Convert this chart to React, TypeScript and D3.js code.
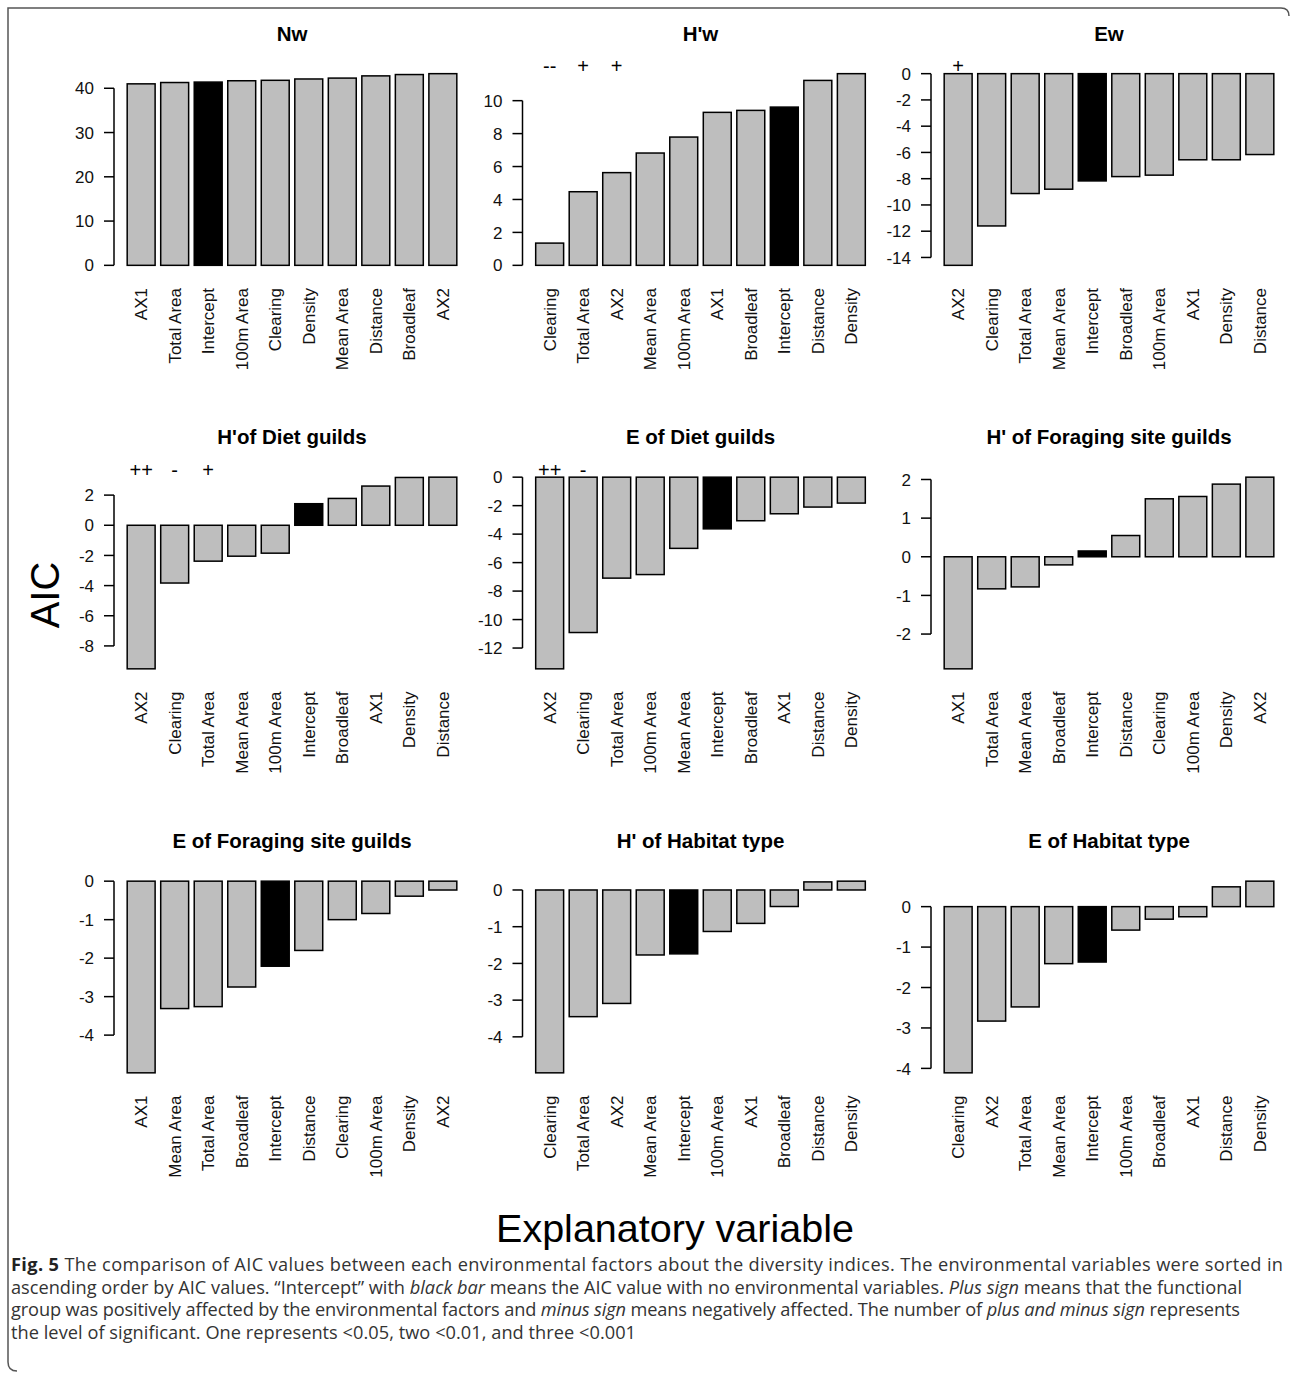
import * as d3 from 'd3';

// panel titles, in reading order
const titles = [
  'Nw', "H'w", 'Ew',
  "H'of Diet guilds", 'E of Diet guilds', "H' of Foraging site guilds",
  'E of Foraging site guilds', "H' of Habitat type", 'E of Habitat type',
];

const nwNames = ['AX1', 'Total Area', 'Intercept', '100m Area', 'Clearing', 'Density', 'Mean Area', 'Distance', 'Broadleaf', 'AX2'];
const nwValues = [41.0, 41.3, 41.4, 41.7, 41.8, 42.1, 42.3, 42.8, 43.1, 43.3];
const nwTicks = [0, 10, 20, 30, 40];
const nwSigns: string[] = [];

const hwNames = ['Clearing', 'Total Area', 'AX2', 'Mean Area', '100m Area', 'AX1', 'Broadleaf', 'Intercept', 'Distance', 'Density'];
const hwValues = [1.35, 4.47, 5.63, 6.82, 7.79, 9.29, 9.41, 9.61, 11.23, 11.64];
const hwTicks = [0, 2, 4, 6, 8, 10];
const hwSigns = ['--', '+', '+'];

const ewNames = ['AX2', 'Clearing', 'Total Area', 'Mean Area', 'Intercept', 'Broadleaf', '100m Area', 'AX1', 'Density', 'Distance'];
const ewValues = [-14.6, -11.6, -9.13, -8.8, -8.17, -7.84, -7.73, -6.56, -6.56, -6.16];
const ewTicks = [0, -2, -4, -6, -8, -10, -12, -14];
const ewSigns = ['+'];

const hDietNames = ['AX2', 'Clearing', 'Total Area', 'Mean Area', '100m Area', 'Intercept', 'Broadleaf', 'AX1', 'Density', 'Distance'];
const hDietValues = [-9.52, -3.83, -2.38, -2.05, -1.85, 1.43, 1.78, 2.6, 3.17, 3.19];
const hDietTicks = [2, 0, -2, -4, -6, -8];
const hDietSigns = ['++', '-', '+'];

const eDietNames = ['AX2', 'Clearing', 'Total Area', '100m Area', 'Mean Area', 'Intercept', 'Broadleaf', 'AX1', 'Distance', 'Density'];
const eDietValues = [-13.46, -10.91, -7.09, -6.84, -5.0, -3.63, -3.06, -2.57, -2.1, -1.82];
const eDietTicks = [0, -2, -4, -6, -8, -10, -12];
const eDietSigns = ['++', '-'];

const hForNames = ['AX1', 'Total Area', 'Mean Area', 'Broadleaf', 'Intercept', 'Distance', 'Clearing', '100m Area', 'Density', 'AX2'];
const hForValues = [-2.9, -0.83, -0.78, -0.21, 0.15, 0.55, 1.5, 1.56, 1.88, 2.06];
const hForTicks = [2, 1, 0, -1, -2];
const hForSigns: string[] = [];

const eForNames = ['AX1', 'Mean Area', 'Total Area', 'Broadleaf', 'Intercept', 'Distance', 'Clearing', '100m Area', 'Density', 'AX2'];
const eForValues = [-4.98, -3.31, -3.26, -2.75, -2.21, -1.8, -1.0, -0.84, -0.39, -0.23];
const eForTicks = [0, -1, -2, -3, -4];
const eForSigns: string[] = [];

const hHabNames = ['Clearing', 'Total Area', 'AX2', 'Mean Area', 'Intercept', '100m Area', 'AX1', 'Broadleaf', 'Distance', 'Density'];
const hHabValues = [-4.98, -3.45, -3.09, -1.77, -1.74, -1.13, -0.91, -0.45, 0.22, 0.24];
const hHabTicks = [0, -1, -2, -3, -4];
const hHabSigns: string[] = [];

const eHabNames = ['Clearing', 'AX2', 'Total Area', 'Mean Area', 'Intercept', '100m Area', 'Broadleaf', 'AX1', 'Distance', 'Density'];
const eHabValues = [-4.11, -2.83, -2.48, -1.41, -1.37, -0.58, -0.31, -0.25, 0.49, 0.63];
const eHabTicks = [0, -1, -2, -3, -4];
const eHabSigns: string[] = [];

const panels = [
  { names: nwNames, values: nwValues, ticks: nwTicks, signs: nwSigns },
  { names: hwNames, values: hwValues, ticks: hwTicks, signs: hwSigns },
  { names: ewNames, values: ewValues, ticks: ewTicks, signs: ewSigns },
  { names: hDietNames, values: hDietValues, ticks: hDietTicks, signs: hDietSigns },
  { names: eDietNames, values: eDietValues, ticks: eDietTicks, signs: eDietSigns },
  { names: hForNames, values: hForValues, ticks: hForTicks, signs: hForSigns },
  { names: eForNames, values: eForValues, ticks: eForTicks, signs: eForSigns },
  { names: hHabNames, values: hHabValues, ticks: hHabTicks, signs: hHabSigns },
  { names: eHabNames, values: eHabValues, ticks: eHabTicks, signs: eHabSigns },
].map((p, i) => ({ ...p, title: titles[i] }));

const W = 1292;
const H = 1375;
const axisXs = [114, 522.5, 931];
const rowTops = [66, 469.5, 873.5];
const plotW = 356;
const plotH = 207;
const FONT = "'Liberation Sans', Arial, sans-serif";
const CAPTION_FONT = "'Open Sans', 'Noto Sans', sans-serif";
// measured right ends of the caption lines
const captionWidths = [1272, 1231, 1229, 625];

function Panel({ panel, left, top }: { panel: (typeof panels)[number]; left: number; top: number }) {
  const n = panel.names.length;
  // R barplot geometry: width 1, space 0.2, 4% padding each side
  const x0 = 0.2;
  const x1 = n * 1.2;
  const padX = (x1 - x0) * 0.04;
  const x = d3.scaleLinear().domain([x0 - padX, x1 + padX]).range([left, left + plotW]);

  const lo = Math.min(0, d3.min(panel.values)!);
  const hi = Math.max(0, d3.max(panel.values)!);
  const padY = (hi - lo) * 0.04;
  const y = d3.scaleLinear().domain([lo - padY, hi + padY]).range([top + plotH, top]);

  const tickMin = d3.min(panel.ticks)!;
  const tickMax = d3.max(panel.ticks)!;

  return (
    <g>
      <text x={left + plotW / 2} y={top - 25.5} textAnchor="middle" fontSize={20.5} fontWeight="bold" fontFamily={FONT}>
        {panel.title}
      </text>
      {panel.values.map((v, i) => {
        const bl = x(0.2 + 1.2 * i);
        const br = x(1.2 + 1.2 * i);
        return (
          <rect
            key={i}
            x={bl}
            y={Math.min(y(v), y(0))}
            width={br - bl}
            height={Math.abs(y(v) - y(0))}
            fill={panel.names[i] === 'Intercept' ? '#000' : '#bebebe'}
            stroke="#000"
            strokeWidth={1.5}
          />
        );
      })}
      {/* y axis */}
      <line x1={left} x2={left} y1={y(tickMin)} y2={y(tickMax)} stroke="#000" strokeWidth={1.5} />
      {panel.ticks.map((t) => (
        <g key={t}>
          <line x1={left - 10} x2={left} y1={y(t)} y2={y(t)} stroke="#000" strokeWidth={1.5} />
          <text x={left - 20} y={y(t)} dy="0.36em" textAnchor="end" fontSize={17} fontFamily={FONT} fill="#111">
            {t}
          </text>
        </g>
      ))}
      {/* category names, rotated */}
      {panel.names.map((name, i) => {
        const cx = x(0.7 + 1.2 * i);
        const ty = top + plotH + 15;
        return (
          <text
            key={name}
            transform={`translate(${cx},${ty}) rotate(-90)`}
            dy="0.36em"
            textAnchor="end"
            fontSize={17}
            fontFamily={FONT}
            fill="#111"
          >
            {name}
          </text>
        );
      })}
      {/* significance signs */}
      {panel.signs.map((s, i) =>
        s ? (
          <text key={i} x={x(0.7 + 1.2 * i)} y={top} dy="0.36em" textAnchor="middle" fontSize={20} fontFamily={FONT}>
            {s}
          </text>
        ) : null,
      )}
    </g>
  );
}

export default function App() {
  const capY = 1271;
  const capStep = 22.5;
  return (
    <svg
      width={W}
      height={H}
      viewBox={`0 0 ${W} ${H}`}
      style={{ position: 'absolute', left: 0, top: 0, background: '#fff', display: 'block' }}
    >
      <rect width={W} height={H} fill="#fff" />
      <path
        d={`M 17 1371 Q 8 1371 8 1362 L 8 8 L 1281 8 Q 1289 8 1289 16`}
        fill="none"
        stroke="#555"
        strokeWidth={1.5}
      />
      {panels.map((p, i) => (
        <Panel key={i} panel={p} left={axisXs[i % 3]} top={rowTops[Math.floor(i / 3)]} />
      ))}
      <text transform="translate(58.8,595) rotate(-90)" textAnchor="middle" fontSize={40} fontFamily={FONT}>
        AIC
      </text>
      <text x={675} y={1242} textAnchor="middle" fontSize={39.5} fontFamily={FONT}>
        Explanatory variable
      </text>
      <g fontFamily={CAPTION_FONT} fontSize={18.2} fill="#333">
        <text x={11} y={capY} textLength={captionWidths[0]} lengthAdjust="spacing">
          <tspan fontWeight="bold" fill="#222">Fig. 5</tspan>
          {' The comparison of AIC values between each environmental factors about the diversity indices. The environmental variables were sorted in'}
        </text>
        <text x={11} y={capY + capStep} textLength={captionWidths[1]} lengthAdjust="spacing">
          {'ascending order by AIC values. \u201cIntercept\u201d with '}
          <tspan fontStyle="italic">black bar</tspan>
          {' means the AIC value with no environmental variables. '}
          <tspan fontStyle="italic">Plus sign</tspan>
          {' means that the functional'}
        </text>
        <text x={11} y={capY + capStep * 2} textLength={captionWidths[2]} lengthAdjust="spacing">
          {'group was positively affected by the environmental factors and '}
          <tspan fontStyle="italic">minus sign</tspan>
          {' means negatively affected. The number of '}
          <tspan fontStyle="italic">plus and minus sign</tspan>
          {' represents'}
        </text>
        <text x={11} y={capY + capStep * 3} textLength={captionWidths[3]} lengthAdjust="spacing">
          {'the level of significant. One represents <0.05, two <0.01, and three <0.001'}
        </text>
      </g>
    </svg>
  );
}
